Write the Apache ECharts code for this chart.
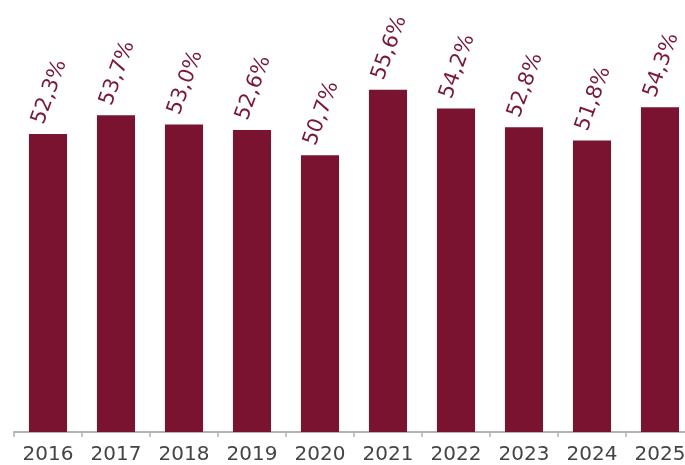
<!DOCTYPE html>
<html>
<head>
<meta charset="utf-8">
<script src="https://cdn.jsdelivr.net/npm/echarts@6/dist/echarts.min.js"></script>
<style>
  html, body { margin: 0; padding: 0; background: #fff; }
  #chart { width: 685px; height: 465px; }
</style>
</head>
<body>
<div id="chart"></div>
<script>
var years = ['2016', '2017', '2018', '2019', '2020', '2021', '2022', '2023', '2024', '2025'];
var shares = [52.3, 53.7, 53.0, 52.6, 50.7, 55.6, 54.2, 52.8, 51.8, 54.3];

var barColor = '#79132f';
var chart = echarts.init(document.getElementById('chart'));
chart.setOption({
    animation: false,
    grid: { left: 14, top: 31, bottom: 33, width: 680, outerBoundsMode: 'none', containLabel: false },
    xAxis: {
        type: 'category',
        data: years,
        axisLine: { lineStyle: { color: '#b3b3b3', width: 2 } },
        axisTick: { show: true, length: 5, lineStyle: { color: '#b3b3b3', width: 1.5 } },
        axisLabel: {
            color: '#444',
            fontSize: 20,
            fontFamily: 'DejaVu Sans',
            margin: 13
        }
    },
    yAxis: {
        type: 'value',
        min: 30,
        max: 60,
        show: false,
        splitLine: { show: false }
    },
    series: [{
        type: 'bar',
        data: shares,
        barCategoryGap: '44%',
        itemStyle: { color: barColor },
        label: {
            show: true,
            position: 'top',
            distance: 7,
            rotate: 70,
            align: 'left',
            verticalAlign: 'bottom',
            color: '#7a1838',
            fontSize: 21,
            fontFamily: 'DejaVu Sans',
            formatter: function (p) {
                return p.value.toFixed(1).replace('.', ',') + '%';
            }
        }
    }]
});
</script>
</body>
</html>
